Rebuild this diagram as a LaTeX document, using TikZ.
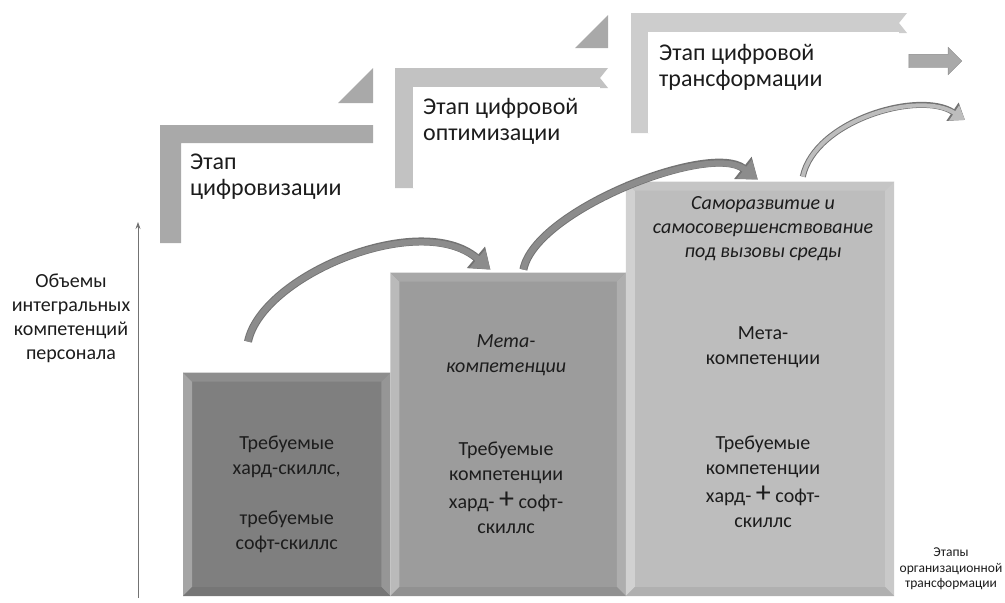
\documentclass[tikz,border=0pt]{standalone}
\usepackage{fontspec}
\setmainfont{Carlito}
\usetikzlibrary{positioning,calc,arrows.meta,shapes.arrows}

\definecolor{boxa}{HTML}{7F7F7F}
\definecolor{boxb}{HTML}{9C9C9C}
\definecolor{boxc}{HTML}{BDBDBD}
\definecolor{stepa}{HTML}{A9A9A9}
\definecolor{stepb}{HTML}{C2C2C2}
\definecolor{stepc}{HTML}{CDCDCD}
\definecolor{arrowgray}{HTML}{8C8C8C}
\definecolor{textdark}{HTML}{1C1C1C}

\begin{document}
\begin{tikzpicture}[x=1pt,y=-1pt,
    level/.style={fill=#1, inner sep=0pt, anchor=south west},
    stagetext/.style={anchor=west, align=left, inner sep=0pt, text=textdark,
      font=\fontsize{24}{26}\selectfont},
    boxtext/.style={align=center, inner sep=0pt, text=textdark,
      font=\fontsize{20}{25}\selectfont},
    bigarrow/.style={draw=arrowgray, line width=6pt,
      -{Triangle[length=17pt,width=23pt]},
      preaction={draw=black!55, line width=8pt, -{Triangle[length=19pt,width=27pt]}}},
    smallarrow/.style={draw=boxc, line width=4pt,
      -{Triangle[length=13pt,width=17pt]},
      preaction={draw=black!55, line width=6pt, -{Triangle[length=15pt,width=21pt]}}},
    axis/.style={draw=black!55, line width=0.8pt, -{Stealth[length=7pt,width=5pt]}}]

  \useasboundingbox (0,0) rectangle (1005,603);

  % levels of competences
  \node[level=boxa, minimum width=207pt, minimum height=223pt] (b1) at (183,596) {};
  \node[level=boxb, minimum width=235pt, minimum height=323pt] (b2) at (b1.south east) {};
  \node[level=boxc, minimum width=268pt, minimum height=414pt] (b3) at (b2.south east) {};

  % bevels
  \foreach \b/\c in {b1/boxa, b2/boxb, b3/boxc} {
    \fill[\c!70!white] (\b.north west) -- (\b.south west) -- ($(\b.south west)+(9,-9)$) -- ($(\b.north west)+(9,9)$) -- cycle;
    \fill[\c!88!white] (\b.north west) -- (\b.north east) -- ($(\b.north east)+(-9,9)$) -- ($(\b.north west)+(9,9)$) -- cycle;
    \fill[\c!82!white] (\b.north east) -- (\b.south east) -- ($(\b.south east)+(-9,-9)$) -- ($(\b.north east)+(-9,9)$) -- cycle;
    \fill[\c!93!black] (\b.south west) -- (\b.south east) -- ($(\b.south east)+(-9,-9)$) -- ($(\b.south west)+(9,-9)$) -- cycle;
  }

  % stages
  \fill[stepa] (160,125) -- (373,125) -- (373,143) -- (181,143) -- (181,243) -- (160,243) -- cycle;
  \fill[stepa] (338,103) -- (373,103) -- (373,68) -- cycle;
  \fill[stepb] (395,68) -- (608,68) -- (600,78) -- (608,88) -- (414,88) -- (414,188) -- (395,188) -- cycle;
  \fill[stepa] (575,48) -- (608,48) -- (608,15) -- cycle;
  \fill[stepc] (631,13) -- (907,13) -- (899,23) -- (907,33) -- (649,33) -- (649,133) -- (631,133) -- cycle;
  \draw[white, line width=1.5pt] (414,188) -- (414,88) -- (600,88);
  \draw[white, line width=1.5pt] (649,133) -- (649,33) -- (899,33);

  \node[stagetext] (s1) at (190,177) {Этап\\цифровизации};
  \node[stagetext] (s2) at (423,121) {Этап цифровой\\оптимизации};
  \node[stagetext] (s3) at (659,67) {Этап цифровой\\трансформации};

  \node[single arrow, fill=stepa, draw=black!45, inner sep=6.5pt,
        single arrow head extend=7pt, minimum height=53pt] (next) at (932,61) {};

  % axis
  \coordinate (ax0) at (138,598);
  \coordinate (ax1) at (138,222);
  \draw[axis] (ax0) -- (ax1);
  \node[boxtext, font=\fontsize{20}{24}\selectfont] (ylab) at (71,318)
    {Объемы\\интегральных\\компетенций\\персонала};
  \node[boxtext, font=\fontsize{13.5}{15.5}\selectfont] (xlab) at (951,569)
    {Этапы\\организационной\\трансформации};

  % texts in levels
  \node[boxtext] (t1) at ($(b1.center)+(0,10)$)
    {Требуемые\\хард-скиллс,\\[25pt]требуемые\\софт-скиллс};
  \node[boxtext, font=\fontsize{20}{25}\selectfont\itshape] (m2) at ($(b2.north)+(-2,83)$)
    {Мета-\\компетенции};
  \node[boxtext] (t2) at ($(b2.north)+(-2,215)$)
    {Требуемые\\компетенции\\[3pt]хард- {\fontsize{30}{25}\selectfont+} софт-\\скиллс};
  \node[boxtext, font=\fontsize{20}{24}\selectfont\itshape] (m3s) at ($(b3.north)+(3,47)$)
    {Саморазвитие и\\самосовершенствование\\под вызовы среды};
  \node[boxtext] (m3) at ($(b3.north)+(3,166)$) {Мета-\\компетенции};
  \node[boxtext] (t3) at ($(b3.north)+(3,300)$)
    {Требуемые\\компетенции\\[3pt]хард- {\fontsize{30}{25}\selectfont+} софт-\\скиллс};

  % growth arrows
  \coordinate (a1s) at ($(b1.north west)+(65,-31)$);
  \coordinate (a1e) at ($(b2.north west)+(100,-3)$);
  \coordinate (a2s) at ($(b2.north west)+(133,-3)$);
  \coordinate (a2e) at ($(b3.north west)+(132,-2)$);
  \coordinate (a3s) at ($(b3.north west)+(177,-5)$);
  \coordinate (a3e) at (965,120);
  \draw[bigarrow] (a1s) .. controls (262,275) and (420,210) .. (a1e);
  \draw[bigarrow] (a2s) .. controls (535,210) and (710,142) .. (a2e);
  \draw[smallarrow] (a3s) .. controls (815,120) and (920,90) .. (a3e);
\end{tikzpicture}
\end{document}
